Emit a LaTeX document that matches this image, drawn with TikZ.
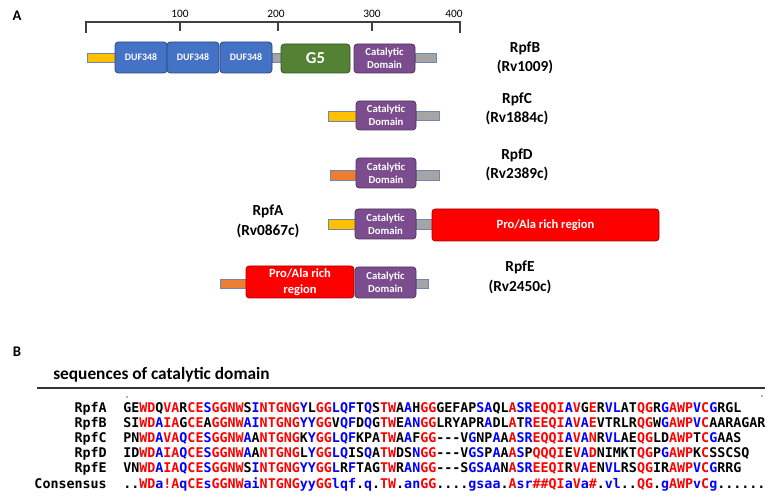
\documentclass[tikz,border=0pt]{standalone}
\usepackage{fontspec}
\setmainfont{Carlito}
\newfontfamily\seqfont{DejaVu Sans Mono Bold}

\definecolor{dufblue}{HTML}{4472C4}
\definecolor{gfivegreen}{HTML}{548235}
\definecolor{catpurple}{HTML}{7C4D8E}
\definecolor{prored}{HTML}{FF0000}
\definecolor{sigyellow}{HTML}{FFC000}
\definecolor{sigorange}{HTML}{ED7D31}
\definecolor{tailgray}{HTML}{A5A5A5}
\definecolor{barline}{HTML}{6F86B0}
\definecolor{consred}{HTML}{FF0000}
\definecolor{consblue}{HTML}{0000FF}

\newcommand{\hcons}[1]{\textcolor{consred}{#1}}
\newcommand{\lcons}[1]{\textcolor{consblue}{#1}}
\newcommand{\seqgap}{\mbox{-}\mbox{-}\mbox{-}}

\tikzset{
  dombox/.style={draw=#1!65!black, fill=#1, rounded corners=2.5pt, line width=0.6pt},
  tailbar/.style={draw=barline, fill=#1, line width=0.5pt},
  boxlabel/.style={text=white, font=\bfseries\fontsize{8}{9.6}\selectfont, align=center, inner sep=0pt},
  protname/.style={font=\bfseries\fontsize{11.5}{14.5}\selectfont, align=center, inner sep=0pt},
  panel/.style={font=\bfseries\fontsize{11}{13}\selectfont, inner sep=0pt},
  scalenum/.style={font=\fontsize{8.5}{10}\selectfont, inner sep=0pt},
  ruler/.style={draw=black!75, line width=0.8pt},
  seqrow/.style={font=\seqfont\fontsize{10}{12}\selectfont, inner sep=0pt, anchor=base west},
  seqname/.style={font=\seqfont\fontsize{10}{12}\selectfont, inner sep=0pt, anchor=base east}
}

\begin{document}
\begin{tikzpicture}[x=0.75pt,y=-0.75pt]
\useasboundingbox (0,0) rectangle (778,502);

\node[panel] (panA) at (17,16) {A};
\node[panel] (panB) at (17,352) {B};

% scale
\draw[ruler] (86,33) -- (86,22) -- (460,22) -- (460,33);
\foreach \tx in {180,278,372}
  \draw[ruler] (\tx,22) -- (\tx,31);
\node[scalenum] (s100) at (180,14) {100};
\node[scalenum] (s200) at (276,14) {200};
\node[scalenum] (s300) at (372,14) {300};
\node[scalenum] (s400) at (454,14) {400};

% RpfB
\draw[tailbar=sigyellow] (87,53) rectangle (115,62);
\draw[tailbar=tailgray] (272,53) rectangle (282,62);
\draw[tailbar=tailgray] (415,53) rectangle (436,62);
\draw[dombox=dufblue] (115,42) rectangle (167,73);
\draw[dombox=dufblue] (167,42) rectangle (219,73);
\draw[dombox=dufblue] (220,42) rectangle (272,73);
\draw[dombox=gfivegreen] (281,44) rectangle (350,73);
\draw[dombox=catpurple] (354,44) rectangle (415,73);
\node[boxlabel, font=\bfseries\fontsize{7.4}{9}\selectfont] (dufa) at (141,57.5) {DUF348};
\node[boxlabel, font=\bfseries\fontsize{7.4}{9}\selectfont] (dufb) at (193,57.5) {DUF348};
\node[boxlabel, font=\bfseries\fontsize{7.4}{9}\selectfont] (dufc) at (246,57.5) {DUF348};
\node[boxlabel, font=\bfseries\fontsize{12.5}{14}\selectfont] (gfive) at (315.5,58.5) {G5};
\node[boxlabel] (catb) at (384.5,58.5) {Catalytic\\Domain};
\node[protname] (rpfb) at (525,58) {RpfB\\(Rv1009)};

% RpfC
\draw[tailbar=sigyellow] (328,111) rectangle (356,121);
\draw[tailbar=tailgray] (416,111) rectangle (439,120);
\draw[dombox=catpurple] (356,101) rectangle (416,130);
\node[boxlabel] (catc) at (386,115.5) {Catalytic\\Domain};
\node[protname] (rpfc) at (517,109) {RpfC\\(Rv1884c)};

% RpfD
\draw[tailbar=sigorange] (330,170) rectangle (356,180);
\draw[tailbar=tailgray] (416,170) rectangle (439,180);
\draw[dombox=catpurple] (356,158) rectangle (416,188);
\node[boxlabel] (catd) at (386,173) {Catalytic\\Domain};
\node[protname] (rpfd) at (517,165) {RpfD\\(Rv2389c)};

% RpfA
\draw[tailbar=sigyellow] (328,219) rectangle (355,229);
\draw[tailbar=tailgray] (416,219) rectangle (432,229);
\draw[dombox=catpurple] (355,209) rectangle (416,239);
\draw[dombox=prored] (432,209) rectangle (659,241);
\node[boxlabel] (cata) at (385.5,224) {Catalytic\\Domain};
\node[boxlabel, font=\bfseries\fontsize{9.4}{11}\selectfont] (proa) at (545.5,225) {Pro/Ala rich region};
\node[protname] (rpfa) at (268,221.5) {RpfA\\(Rv0867c)};

% RpfE
\draw[tailbar=sigorange] (220,279) rectangle (246,288);
\draw[tailbar=tailgray] (416,279) rectangle (428,288);
\draw[dombox=prored] (246,266) rectangle (354,298);
\draw[dombox=catpurple] (355,267) rectangle (416,298);
\node[boxlabel, font=\bfseries\fontsize{9.4}{12}\selectfont] (proe) at (300,282) {Pro/Ala rich\\region};
\node[boxlabel] (cate) at (385.5,282.5) {Catalytic\\Domain};
\node[protname] (rpfe) at (520,277.5) {RpfE\\(Rv2450c)};

% alignment
\node[font=\bfseries\fontsize{13}{15}\selectfont, inner sep=0pt, anchor=west] (seqhead) at (53,375) {sequences of catalytic domain};
\draw[draw=black!80, line width=1.1pt] (37,388) -- (765,388);
\fill[black!60] (127,397) circle (0.9);
\fill[black!60] (762,396) circle (0.9);

\node[seqname] (nameA) at (107,412) {RpfA};
\node[seqname] (nameB) at (107,427) {RpfB};
\node[seqname] (nameC) at (107,442) {RpfC};
\node[seqname] (nameD) at (107,457) {RpfD};
\node[seqname] (nameE) at (107,472) {RpfE};
\node[seqname] (nameCons) at (107,488) {Consensus};

\node[seqrow] (seqA) at (123,412) {GE\hcons{WD}Q\hcons{VA}R\hcons{CE}\lcons{S}\hcons{GGNW}S\lcons{I}\hcons{NTGNG}\lcons{Y}L\hcons{GG}\lcons{LQF}T\lcons{Q}S\hcons{TW}A\lcons{A}H\hcons{GG}GEFAP\lcons{SA}QL\hcons{A}\lcons{SR}\hcons{EQQI}\lcons{A}\hcons{V}G\hcons{E}R\lcons{VL}AT\hcons{QG}R\lcons{G}\hcons{AWP}\lcons{V}\hcons{C}\lcons{G}RGL};
\node[seqrow] (seqB) at (123,427) {SI\hcons{WD}\lcons{A}\hcons{IA}G\hcons{CE}A\hcons{GGNW}\lcons{AI}\hcons{NTGNG}\lcons{YY}\hcons{GG}V\lcons{QF}D\lcons{Q}G\hcons{TW}E\lcons{AN}\hcons{GG}LRYAPR\lcons{A}DL\hcons{A}T\lcons{R}\hcons{EEQI}\lcons{A}\hcons{V}\lcons{A}\hcons{E}VTRLR\hcons{QG}W\lcons{G}\hcons{AWP}\lcons{V}\hcons{C}AARAGAR};
\node[seqrow] (seqC) at (123,442) {PN\hcons{WD}\lcons{A}\hcons{VA}\lcons{Q}\hcons{CE}\lcons{S}\hcons{GGNW}\lcons{A}A\hcons{NTGNG}K\lcons{Y}\hcons{GG}\lcons{LQF}KPA\hcons{TW}A\lcons{A}F\hcons{GG}\seqgap V\lcons{G}NP\lcons{A}A\hcons{A}\lcons{SR}\hcons{EQQI}\lcons{A}\hcons{V}\lcons{A}\hcons{N}R\lcons{VL}AE\hcons{QG}LD\hcons{AWP}T\hcons{C}\lcons{G}AAS};
\node[seqrow] (seqD) at (123,457) {ID\hcons{WD}\lcons{A}\hcons{IA}\lcons{Q}\hcons{CE}\lcons{S}\hcons{GGNW}\lcons{A}A\hcons{NTGNG}L\lcons{Y}\hcons{GG}\lcons{LQ}IS\lcons{Q}A\hcons{TW}DS\lcons{N}\hcons{GG}\seqgap V\lcons{GS}P\lcons{A}A\hcons{A}\lcons{S}P\hcons{QQQI}E\hcons{V}\lcons{A}\hcons{D}NIMKT\hcons{QG}P\lcons{G}\hcons{AWP}K\hcons{C}SSCSQ};
\node[seqrow] (seqE) at (123,472) {VN\hcons{WD}\lcons{A}\hcons{IA}\lcons{Q}\hcons{CE}\lcons{S}\hcons{GGNW}S\lcons{I}\hcons{NTGNG}\lcons{YY}\hcons{GG}\lcons{L}R\lcons{F}TAG\hcons{TW}R\lcons{AN}\hcons{GG}\seqgap S\lcons{GSAA}N\hcons{A}\lcons{SR}\hcons{EEQI}R\hcons{V}\lcons{A}\hcons{E}N\lcons{VL}RS\hcons{QG}IR\hcons{AWP}\lcons{V}\hcons{C}\lcons{G}RRG};
\node[seqrow] (seqCons) at (123,488) {..\hcons{WD}\lcons{a}\hcons{!A}\lcons{q}\hcons{CE}\lcons{s}\hcons{GGNW}\lcons{ai}\hcons{NTGNG}\lcons{yy}\hcons{GG}\lcons{lqf}.\lcons{q}.\hcons{TW}.\lcons{an}\hcons{GG}....\lcons{gsaa}.\hcons{A}\lcons{sr}\hcons{\#\#QI}\lcons{a}\hcons{V}\lcons{a}\hcons{\#}.\lcons{vl}..\hcons{QG}.\lcons{g}\hcons{AWP}\lcons{v}\hcons{C}\lcons{g}......};
\end{tikzpicture}
\end{document}
